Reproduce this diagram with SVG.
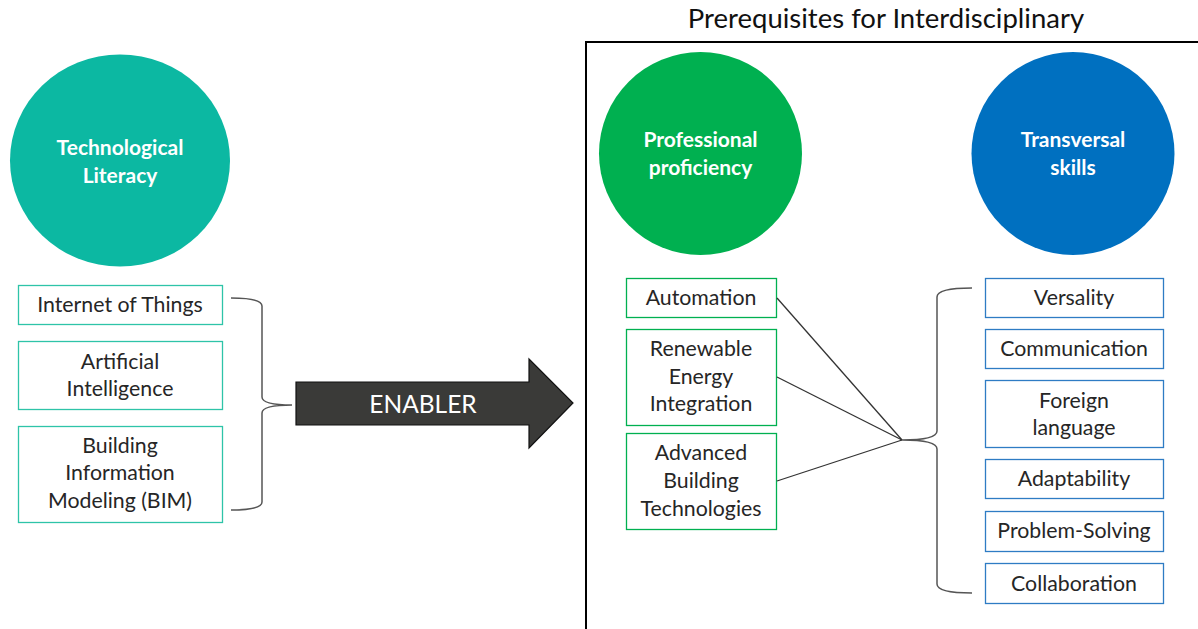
<svg xmlns="http://www.w3.org/2000/svg" width="1198" height="629" viewBox="0 0 1198 629">
<style>
.t{font-family:Lato,"Open Sans","Liberation Sans",sans-serif;font-size:21.3px;fill:#262626;text-anchor:middle}
.c{font-family:Lato,"Open Sans","Liberation Sans",sans-serif;font-size:21px;font-weight:bold;fill:#fff;text-anchor:middle}
.bt{fill:#fff;stroke:#2ec4a8;stroke-width:1.3}
.bg{fill:#fff;stroke:#00b050;stroke-width:1.3}
.bb{fill:#fff;stroke:#2e7cc4;stroke-width:1.3}
.ln{fill:none;stroke:#333;stroke-width:1.3}
.br{fill:none;stroke:#555;stroke-width:1.5}
</style>
<rect width="1198" height="629" fill="#fff"/>
<text x="886" y="28" font-family="Lato,'Open Sans','Liberation Sans',sans-serif" font-size="27.5" fill="#111" text-anchor="middle">Prerequisites for Interdisciplinary</text>
<rect id="frame" x="586" y="42" width="620" height="600" fill="none" stroke="#000" stroke-width="2"/>
<g id="tech-literacy"><ellipse cx="120" cy="160.5" rx="110" ry="106" fill="#0cb8a2"/><text class="c" x="120" y="155">Technological</text><text class="c" x="120" y="183">Literacy</text></g>
<g id="professional"><circle cx="700.5" cy="153.5" r="101.5" fill="#00b050"/><text class="c" x="700.5" y="147">Professional</text><text class="c" x="700.5" y="175">proficiency</text></g>
<g id="transversal"><circle cx="1073" cy="153.5" r="101.5" fill="#0070c0"/><text class="c" x="1073" y="147">Transversal</text><text class="c" x="1073" y="175">skills</text></g>
<g id="iot"><rect class="bt" x="18.5" y="285.5" width="204" height="39"/><text class="t" x="120" y="312">Internet of Things</text></g>
<g id="ai"><rect class="bt" x="18.5" y="341.5" width="204" height="68"/><text class="t" x="120" y="369">Artificial</text><text class="t" x="120" y="396">Intelligence</text></g>
<g id="bim"><rect class="bt" x="18.5" y="426.5" width="204" height="96"/><text class="t" x="120" y="453">Building</text><text class="t" x="120" y="480">Information</text><text class="t" x="120" y="508">Modeling (BIM)</text></g>
<g id="enabler"><path d="M296,382 H529 V359 L573,403 L529,448 V425 H296 Z" fill="#3a3a38" stroke="#111" stroke-width="1.2"/><text x="423" y="413" font-family="Lato,'Open Sans','Liberation Sans',sans-serif" font-size="24.5" fill="#fff" text-anchor="middle">ENABLER</text></g>
<g id="automation"><rect class="bg" x="626.5" y="278.5" width="150" height="39"/><text class="t" x="701" y="305">Automation</text></g>
<g id="renewable"><rect class="bg" x="626.5" y="329.5" width="150" height="96"/><text class="t" x="701" y="356">Renewable</text><text class="t" x="701" y="384">Energy</text><text class="t" x="701" y="411">Integration</text></g>
<g id="advanced"><rect class="bg" x="626.5" y="433.5" width="150" height="96"/><text class="t" x="701" y="460">Advanced</text><text class="t" x="701" y="488">Building</text><text class="t" x="701" y="516">Technologies</text></g>
<g id="versality"><rect class="bb" x="985.5" y="278.5" width="178" height="39"/><text class="t" x="1074" y="305">Versality</text></g>
<g id="communication"><rect class="bb" x="985.5" y="329.5" width="178" height="39"/><text class="t" x="1074" y="356">Communication</text></g>
<g id="foreign"><rect class="bb" x="985.5" y="380.5" width="178" height="67"/><text class="t" x="1074" y="408">Foreign</text><text class="t" x="1074" y="435">language</text></g>
<g id="adaptability"><rect class="bb" x="985.5" y="459.5" width="178" height="39"/><text class="t" x="1074" y="486">Adaptability</text></g>
<g id="problem"><rect class="bb" x="985.5" y="511.5" width="178" height="40"/><text class="t" x="1074" y="538">Problem-Solving</text></g>
<g id="collaboration"><rect class="bb" x="985.5" y="563.5" width="178" height="40"/><text class="t" x="1074" y="591">Collaboration</text></g>
<g id="connectors">
<path class="br" d="M231,298 Q262,298 262,306 V397 Q262,405 292,405 Q262,405 262,413 V502 Q262,510 231,510"/>
<line class="ln" x1="777" y1="298" x2="902" y2="440"/>
<line class="ln" x1="777" y1="377" x2="902" y2="440"/>
<line class="ln" x1="777" y1="481" x2="902" y2="440"/>
<path class="br" d="M972,288 Q937,288 937,297 V431 Q937,440 902,440 Q937,440 937,449 V584 Q937,593 972,593"/>
</g>
</svg>
